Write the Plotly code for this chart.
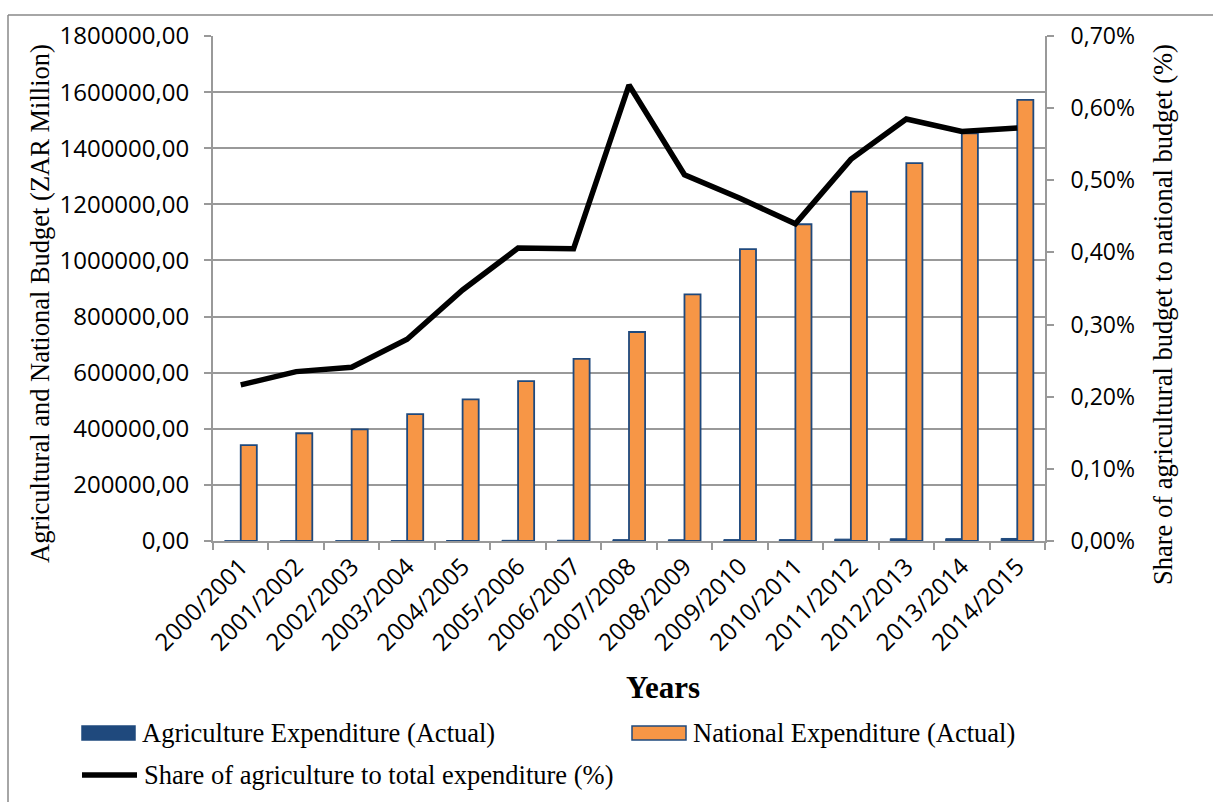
import plotly.graph_objects as go

# Fiscal years
years = ["2000/2001", "2001/2002", "2002/2003", "2003/2004", "2004/2005",
         "2005/2006", "2006/2007", "2007/2008", "2008/2009", "2009/2010",
         "2010/2011", "2011/2012", "2012/2013", "2013/2014", "2014/2015"]

# Expenditure, ZAR million
agri_exp = [740, 900, 960, 1265, 1760, 2315, 2630, 4710, 4460, 4940,
            4965, 6590, 7880, 8250, 9000]
national_exp = [342000, 384000, 398000, 452000, 505000, 570000, 649000, 745000,
                879000, 1040000, 1129000, 1245000, 1347000, 1453000, 1572000]

# Share of agriculture in total expenditure (fraction)
agri_share = [0.002164, 0.002348, 0.002409, 0.002797, 0.00348, 0.00406, 0.00405,
              0.00632, 0.005076, 0.00475, 0.004397, 0.00529, 0.00585, 0.005677,
              0.005724]

left_ticks = [0, 200000, 400000, 600000, 800000, 1000000, 1200000, 1400000,
              1600000, 1800000]
right_ticks = [0, 0.001, 0.002, 0.003, 0.004, 0.005, 0.006, 0.007]

W, H = 1213, 802
L, R, T, B = 213, 1045, 36, 541

BLUE = "#1F497D"
ORANGE = "#F79646"
GRID = "#999999"
SERIF = "Liberation Serif"
SANS = "Open Sans"


def px(x):
    return (x - L) / (R - L)


def py(y):
    return (B - y) / (B - T)


fig = go.Figure()
fig.add_trace(go.Bar(
    x=years, y=agri_exp, name="Agriculture Expenditure (Actual)",
    marker=dict(color=BLUE, line=dict(color=BLUE, width=1)),
    showlegend=False,
))
fig.add_trace(go.Bar(
    x=years, y=national_exp, name="National Expenditure (Actual)",
    marker=dict(color=ORANGE, line=dict(color=BLUE, width=1.8)),
    showlegend=False,
))
fig.add_trace(go.Scatter(
    x=years, y=agri_share, yaxis="y2", mode="lines",
    name="Share of agriculture to total expenditure (%)",
    line=dict(color="black", width=5.5), showlegend=False,
))

fig.update_layout(
    width=W, height=H,
    margin=dict(l=L, r=W - R, t=T, b=H - B),
    paper_bgcolor="white", plot_bgcolor="white",
    barmode="group", bargap=0.42, bargroupgap=0,
    separators=",.",
    xaxis=dict(
        type="category", tickangle=-45,
        tickfont=dict(family=SANS, size=24, color="black"),
        showline=True, linecolor=GRID, linewidth=2,
        ticks="outside", tickson="boundaries", ticklen=7,
        tickcolor=GRID, tickwidth=2, showgrid=False,
    ),
    yaxis=dict(
        range=[0, 1800000], tickvals=left_ticks, tickformat=".2f",
        tickfont=dict(family=SANS, size=24, color="black"),
        showgrid=True, gridcolor=GRID, gridwidth=2,
        showline=True, linecolor=GRID, linewidth=2,
        ticks="outside", ticklen=7, tickcolor=GRID, tickwidth=2,
        ticklabelstandoff=10, zeroline=False,
    ),
    yaxis2=dict(
        overlaying="y", side="right", range=[0, 0.007],
        tickvals=right_ticks, tickformat=".2%",
        tickfont=dict(family=SANS, size=23, color="black"),
        showgrid=False, showline=True, linecolor=GRID, linewidth=2,
        ticks="outside", ticklen=7, tickcolor=GRID, tickwidth=2,
        ticklabelstandoff=12, zeroline=False,
    ),
)

ann = [
    dict(text="Agricultural and National Budget (ZAR Million)",
         x=px(40), y=py(304), textangle=-90,
         font=dict(family=SERIF, size=26.5, color="black")),
    dict(text="Share of agricultural budget to national budget (%)",
         x=px(1163), y=py(315), textangle=-90,
         font=dict(family=SERIF, size=26.5, color="black")),
    dict(text="<b>Years</b>", x=px(663), y=py(687),
         font=dict(family=SERIF, size=31, color="black")),
]

# Legend entries: swatch + label
legend_items = [
    ("rect", BLUE, BLUE, 82, 135, 733, "Agriculture Expenditure (Actual)"),
    ("rect", ORANGE, BLUE, 632, 686, 733, "National Expenditure (Actual)"),
    ("line", "black", "black", 82, 137, 775,
     "Share of agriculture to total expenditure (%)"),
]
shapes = [
    # chart frame
    dict(type="line", xref="paper", yref="paper", x0=px(8), x1=px(W + 5),
         y0=py(15), y1=py(15), line=dict(color="#888888", width=1.5)),
    dict(type="line", xref="paper", yref="paper", x0=px(8), x1=px(8),
         y0=py(15), y1=py(H + 5), line=dict(color="#888888", width=1.5)),
]
for kind, fill, edge, x0, x1, yc, label in legend_items:
    if kind == "rect":
        shapes.append(dict(type="rect", xref="paper", yref="paper",
                           x0=px(x0), x1=px(x1), y0=py(yc + 7), y1=py(yc - 7),
                           fillcolor=fill, line=dict(color=edge, width=1.5)))
    else:
        shapes.append(dict(type="line", xref="paper", yref="paper",
                           x0=px(x0), x1=px(x1), y0=py(yc), y1=py(yc),
                           line=dict(color=fill, width=5.5)))
    ann.append(dict(text=label, x=px(x1 + 5), y=py(yc), xanchor="left",
                    font=dict(family=SERIF, size=26.5, color="black")))

for a in ann:
    a.setdefault("xref", "paper")
    a.setdefault("yref", "paper")
    a.setdefault("xanchor", "center")
    a.setdefault("yanchor", "middle")
    a.setdefault("showarrow", False)

fig.update_layout(annotations=ann, shapes=shapes)
fig.write_html("out.html")
